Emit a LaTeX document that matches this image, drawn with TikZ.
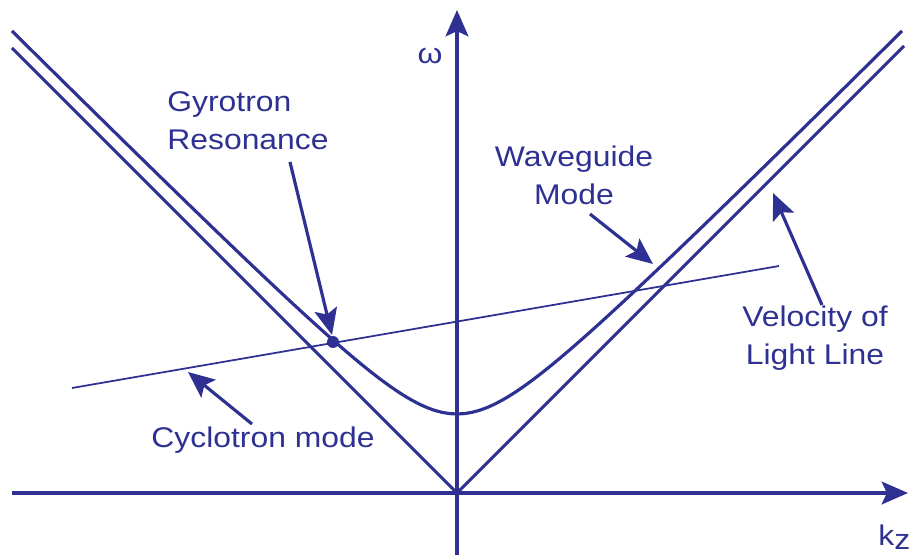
\documentclass[tikz,border=0pt]{standalone}
\usepackage{fontspec}
\setmainfont{Liberation Sans}[FakeStretch=1.12]
\usetikzlibrary{arrows.meta}
\definecolor{navy}{HTML}{2E3192}

\begin{document}
\begin{tikzpicture}[x=0.02cm,y=0.02cm,>={Stealth[length=15pt,width=13pt,inset=3pt]},
  every node/.style={text=navy,inner sep=0pt,font=\fontsize{16.2}{21.5}\selectfont},
  axis/.style={draw=navy,line width=1.8pt,->},
  branch/.style={draw=navy,line width=1.8pt},
  pointer/.style={draw=navy,line width=1.8pt,->}]
  \useasboundingbox (-457,-62) rectangle (453,493);
  % axes
  \coordinate (o) at (0,0);
  \coordinate (kl) at (-445,0); \coordinate (kr) at (451,0);
  \coordinate (wb) at (0,-62); \coordinate (wt) at (0,483);
  \draw[axis] (kl) -- (kr);
  \draw[axis] (wb) -- (wt);
  \node (omega) at (-27,437) {ω};
  \node[anchor=base west] (kz) at (421,-52) {k\raisebox{-2.8pt}{z}};
  % light lines and waveguide mode
  \coordinate (ll) at (-445,445); \coordinate (lr) at (447,447);
  \draw[branch] (ll) -- (o) -- (lr);
  \draw[branch] plot[domain=-445:445,samples=121] (\x,{12+100*sqrt(0.4489+(\x/100)^2)});
  % cyclotron mode
  \coordinate (cl) at (-385,105); \coordinate (cr) at (322,227);
  \draw[navy,line width=1pt] (cl) -- (cr);
  \coordinate (res) at (-124,151);
  \fill[navy] (res) circle (0.12cm);
  % labels
  \node[align=left,anchor=west] (gyro) at (-290,372) {Gyrotron\\Resonance};
  \node[align=center] (wave) at (117,318) {Waveguide\\Mode};
  \node[align=center] (light) at (358,155) {Velocity of\\Light Line};
  \node[anchor=base] (cyc) at (-194,46) {Cyclotron mode};
  \coordinate (gt) at (-167,331); \coordinate (gh) at (-125,158);
  \coordinate (wt1) at (133,279); \coordinate (wh) at (196,229);
  \coordinate (lt) at (365,188); \coordinate (lh) at (316,300);
  \coordinate (ct) at (-205,69); \coordinate (ch) at (-269,121);
  \draw[pointer] (gt) -- (gh);
  \draw[pointer] (wt1) -- (wh);
  \draw[pointer] (lt) -- (lh);
  \draw[pointer] (ct) -- (ch);
\end{tikzpicture}
\end{document}
